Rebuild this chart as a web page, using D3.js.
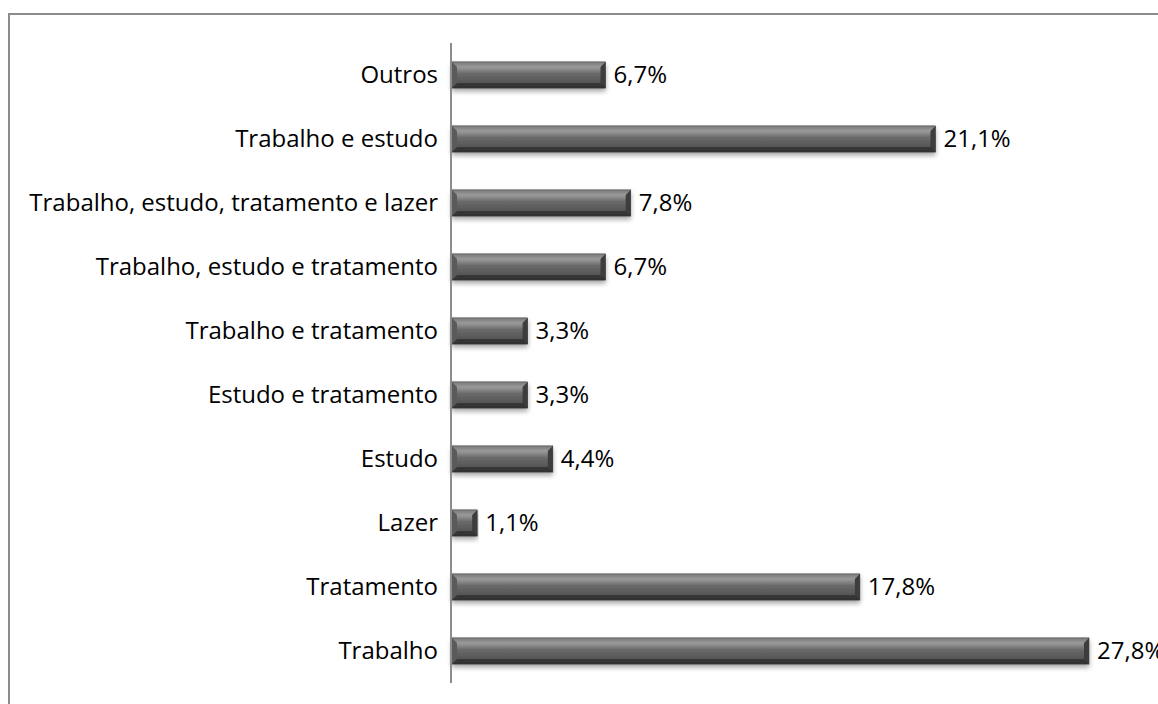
<!DOCTYPE html>
<html>
<head>
<meta charset="utf-8">
<script src="https://cdn.jsdelivr.net/npm/d3@7"></script>
<style>
  body { margin: 0; background: #fff; }
  svg { display: block; }
</style>
</head>
<body>
<svg width="1158" height="704"></svg>
<script>
// **** Data (top to bottom)
const categories = [
  "Outros",
  "Trabalho e estudo",
  "Trabalho, estudo, tratamento e lazer",
  "Trabalho, estudo e tratamento",
  "Trabalho e tratamento",
  "Estudo e tratamento",
  "Estudo",
  "Lazer",
  "Tratamento",
  "Trabalho"
];
const values = [6.7, 21.1, 7.8, 6.7, 3.3, 3.3, 4.4, 1.1, 17.8, 27.8];
const valueLabels = ["6,7%", "21,1%", "7,8%", "6,7%", "3,3%", "3,3%", "4,4%", "1,1%", "17,8%", "27,8%"];

const svg = d3.select("svg");
const font = "'Open Sans', sans-serif";
const fontSize = 24;

// **** Chart border
svg.append("rect")
  .attr("x", 9).attr("y", 14)
  .attr("width", 1160).attr("height", 700)
  .attr("fill", "none")
  .attr("stroke", "#8c8c8c")
  .attr("stroke-width", 2);

// **** Scales
const x0 = 452;
const x = d3.scaleLinear().domain([0, 27.8]).range([x0, 1089]);
const y = d3.scaleBand().domain(categories).range([43, 683]).paddingInner(0.59).paddingOuter(0.295);

// **** Gradients
const defs = svg.append("defs");
const g1 = defs.append("linearGradient").attr("id", "barGrad")
  .attr("x1", 0).attr("y1", 0).attr("x2", 0).attr("y2", 1);
g1.append("stop").attr("offset", "0%").attr("stop-color", "#7a7a7a");
g1.append("stop").attr("offset", "20%").attr("stop-color", "#9a9a9a");
g1.append("stop").attr("offset", "45%").attr("stop-color", "#6a6a6a");
g1.append("stop").attr("offset", "80%").attr("stop-color", "#555");
g1.append("stop").attr("offset", "100%").attr("stop-color", "#333");

const shadow = defs.append("filter").attr("id", "shadow")
  .attr("x", "-5%").attr("y", "-30%").attr("width", "110%").attr("height", "180%");
shadow.append("feGaussianBlur").attr("in", "SourceAlpha").attr("stdDeviation", 2.5);
shadow.append("feOffset").attr("dx", 0).attr("dy", 3).attr("result", "blur");
shadow.append("feComponentTransfer").append("feFuncA").attr("type", "linear").attr("slope", 0.35);
const merge = shadow.append("feMerge");
merge.append("feMergeNode");
merge.append("feMergeNode").attr("in", "SourceGraphic");

// **** Bars
const bars = svg.append("g").selectAll("g")
  .data(categories)
  .join("g")
  .attr("filter", "url(#shadow)");

bars.append("rect")
  .attr("x", x0)
  .attr("y", d => y(d))
  .attr("width", (d, i) => x(values[i]) - x0)
  .attr("height", y.bandwidth())
  .attr("fill", "url(#barGrad)")
  .attr("stroke", "#444")
  .attr("stroke-width", 0.6);

// bevel: darker edges on both ends
const bev = 5;
bars.append("path")
  .attr("d", (d, i) => {
    const xe = x(values[i]), yt = y(d), h = y.bandwidth();
    const b = Math.min(bev, (xe - x0) / 2);
    return `M${xe},${yt} L${xe - b},${yt + b} L${xe - b},${yt + h - b} L${xe},${yt + h} Z`;
  })
  .attr("fill", "#3c3c3c");
bars.append("path")
  .attr("d", (d, i) => {
    const xe = x(values[i]), yt = y(d), h = y.bandwidth();
    const b = Math.min(bev, (xe - x0) / 2);
    return `M${x0},${yt} L${x0 + b},${yt + b} L${x0 + b},${yt + h - b} L${x0},${yt + h} Z`;
  })
  .attr("fill", "#5a5a5a");
bars.append("path")
  .attr("d", (d, i) => {
    const xe = x(values[i]), yt = y(d), h = y.bandwidth();
    const b = Math.min(bev, (xe - x0) / 2);
    return `M${x0},${yt + h} L${x0 + b},${yt + h - b} L${xe - b},${yt + h - b} L${xe},${yt + h} Z`;
  })
  .attr("fill", "#2e2e2e")
  .attr("opacity", 0.7);

// **** Axis line
svg.append("line")
  .attr("x1", 451).attr("x2", 451)
  .attr("y1", 43).attr("y2", 683)
  .attr("stroke", "#8c8c8c")
  .attr("stroke-width", 2);

// **** Category labels
svg.append("g").selectAll("text")
  .data(categories)
  .join("text")
  .attr("x", 438)
  .attr("y", d => y(d) + y.bandwidth() / 2)
  .attr("dy", "0.35em")
  .attr("text-anchor", "end")
  .attr("font-family", font)
  .attr("font-size", fontSize)
  .attr("fill", "#000")
  .text(d => d);

// **** Value labels
svg.append("g").selectAll("text")
  .data(categories)
  .join("text")
  .attr("x", (d, i) => x(values[i]) + 8)
  .attr("y", d => y(d) + y.bandwidth() / 2)
  .attr("dy", "0.35em")
  .attr("font-family", font)
  .attr("font-size", fontSize)
  .attr("fill", "#000")
  .text((d, i) => valueLabels[i]);
</script>
</body>
</html>
